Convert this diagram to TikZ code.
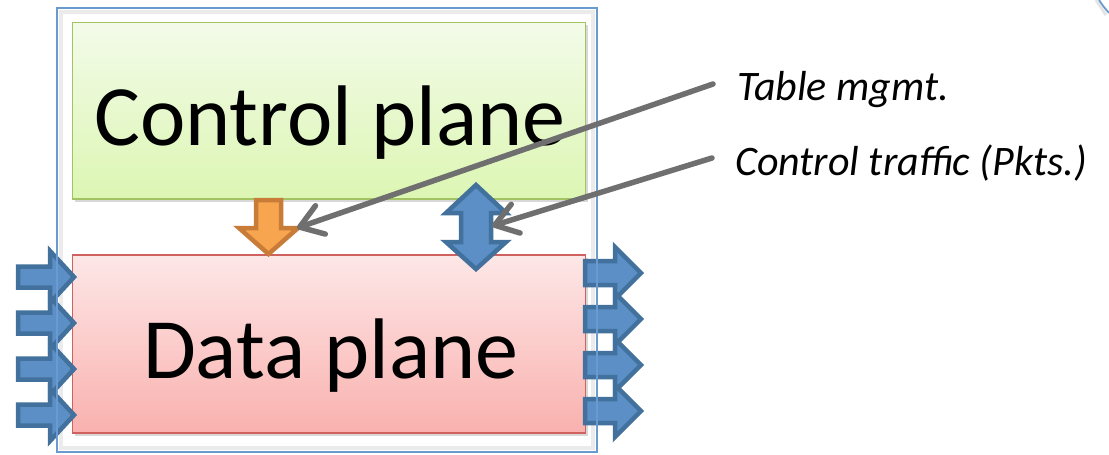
\documentclass[tikz,border=0pt]{standalone}
\usepackage{fontspec}
\setmainfont{Carlito}
\usetikzlibrary{arrows.meta,shadows}
\definecolor{outerblue}{HTML}{6A9BD0}
\definecolor{ctrlborder}{HTML}{A3C262}
\definecolor{ctrltop}{HTML}{F3FBE9}
\definecolor{ctrlbot}{HTML}{DCF6B3}
\definecolor{databorder}{HTML}{CF625F}
\definecolor{datatop}{HTML}{FDE7E7}
\definecolor{databot}{HTML}{F9B1AE}
\definecolor{bluefill}{HTML}{5B8FC6}
\definecolor{blueedge}{HTML}{41719C}
\definecolor{orfill}{HTML}{F7A54F}
\definecolor{oredge}{HTML}{C97B38}
\definecolor{graylink}{HTML}{6F6F6F}
\tikzset{
  planebox/.style={draw, line width=1.8pt, inner sep=0pt, rectangle,
    drop shadow={shadow xshift=2.5pt, shadow yshift=-2.5pt, opacity=0.25, fill=black!60}},
  bigtext/.style={font=\fontsize{86}{92}\selectfont, anchor=base, inner sep=0pt},
  labeltext/.style={font=\itshape\fontsize{42}{46}\selectfont, anchor=base west, inner sep=0pt},
  bluearrow/.style={fill=bluefill, draw=blueedge, line width=4.5pt, line join=miter},
  orarrow/.style={fill=orfill, draw=oredge, line width=4.5pt, line join=miter},
  pointer/.style={draw=graylink, line width=5.5pt, line cap=round,
    -{Straight Barb[length=22pt, width=30pt, round]}},
}
\begin{document}
\begin{tikzpicture}[x=1pt, y=-1pt]
\useasboundingbox (0,0) rectangle (1109,455);
\fill[white] (0,0) rectangle (1109,455);
% outer box background
\node[draw=none, fill=white, minimum width=540pt, minimum height=444pt, inner sep=0pt] (outer) at (327,230) {};
\draw[black!8, line width=4pt] (61,12) rectangle (593,448);
% control plane
\node[planebox, draw=ctrlborder, top color=ctrltop, bottom color=ctrlbot,
  minimum width=513pt, minimum height=176.5pt] (ctrl) at (329,110.75) {};
\node[bigtext] (ctrltext) at (330,145) {Control plane};
% data plane
\node[planebox, draw=databorder, top color=datatop, bottom color=databot,
  minimum width=513pt, minimum height=178pt] (data) at (329,344) {};
\node[bigtext] (datatext) at (331,378) {Data plane};
% input arrows
\foreach \y in {277,323,369,415}{
  \draw[bluearrow] (18,\y-10.5) -- (50,\y-10.5) -- (50,\y-26) -- (74,\y)
     -- (50,\y+26) -- (50,\y+10.5) -- (18,\y+10.5) -- cycle;
}
% output arrows
\foreach \y in {273,319,365,411}{
  \draw[bluearrow] (585,\y-12) -- (615,\y-12) -- (615,\y-26) -- (641,\y)
     -- (615,\y+26) -- (615,\y+12) -- (585,\y+12) -- cycle;
}
% orange down arrow
\draw[orarrow] (256,200) -- (281,200) -- (281,228) -- (298,228) -- (268.5,254)
   -- (239,228) -- (256,228) -- cycle;
\coordinate (ortip) at (297,228);
% blue double arrow
\draw[bluearrow] (476,185) -- (506,213) -- (491,213) -- (491,242) -- (506,242)
   -- (476,269) -- (446,242) -- (461,242) -- (461,213) -- (446,213) -- cycle;
\coordinate (bltip) at (492,226);
% outer box border on top
\draw[outerblue, line width=1.8pt] (outer.north west) rectangle (outer.south east);
% labels
\node[labeltext] (tbl) at (737,100) {Table mgmt.};
\node[labeltext] (ctl) at (735,175) {Control traffic (Pkts.)};
\coordinate (tblstart) at (713,84);
\coordinate (ctlstart) at (712,158);
\draw[pointer] (tblstart) -- (ortip);
\draw[pointer] (ctlstart) -- (bltip);
% partial shape at top right
\draw[black!10, line width=3pt] (1096,0) .. controls (1100,6) .. (1106,15);
\draw[outerblue, line width=1.8pt] (1099,0) .. controls (1103,6) .. (1109,13);
\end{tikzpicture}
\end{document}
